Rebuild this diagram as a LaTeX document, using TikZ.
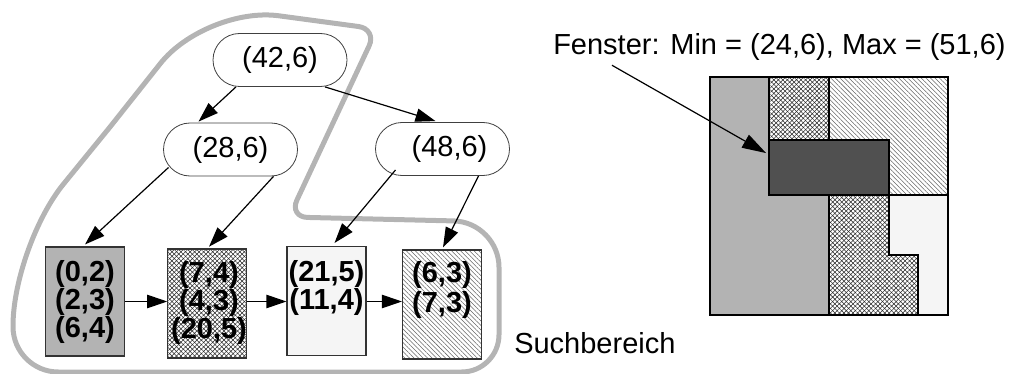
\documentclass[tikz,border=0pt]{standalone}
\usepackage{fontspec}
\setmainfont{Liberation Sans}
\usetikzlibrary{arrows.meta,patterns.meta,calc,shapes.misc}
\definecolor{lgray}{HTML}{B3B3B3}
\definecolor{dgray}{HTML}{505050}
\definecolor{vlgray}{HTML}{F5F5F5}
\definecolor{sgray}{HTML}{B4B4B4}
\begin{document}
\begin{tikzpicture}[x=0.75pt,y=-0.75pt,
  oval/.style={rounded rectangle, draw=black!75, line width=0.6pt, fill=white,
    minimum width=100.5pt, minimum height=39.75pt, inner sep=0pt,
    font=\fontsize{21.75}{26}\selectfont},
  page/.style={rectangle, draw=black!80, line width=0.8pt,
    minimum width=59.25pt, minimum height=81.75pt, inner sep=0pt},
  lbl/.style={anchor=north, inner sep=0pt, align=center,
    font=\bfseries\fontsize{21.75}{21}\selectfont},
  conn/.style={-{Triangle[length=15pt,width=10pt]}, line width=0.9pt},
  search/.style={draw=sgray, line width=3.75pt},
  plain/.style={font=\fontsize{21.75}{26}\selectfont, inner sep=0pt},
  xhatch/.style={preaction={pattern={Lines[angle=45,distance=2.4pt,line width=0.4pt]}, pattern color=black!85},
    pattern={Lines[angle=-45,distance=2.4pt,line width=0.4pt]}, pattern color=black!85},
  dhatch/.style={pattern={Lines[angle=-45,distance=2.4pt,line width=0.4pt]}, pattern color=black!60},
  region/.style={draw=black, line width=1.1pt}
]
\useasboundingbox (0,0) rectangle (1016,374);

% search area outline
\draw[search] (110,127) [rounded corners=55pt] -- (206,6) [rounded corners=14pt] -- (377,29)
  [rounded corners=14pt] -- (289,217) [rounded corners=34pt] -- (499,222)
  [rounded corners=28pt] -- (499,372) [rounded corners=34pt] -- (13,372)
  [rounded corners=60pt] -- (13,246) [sharp corners] -- (110,127);

% inner nodes
\node[oval] (n42) at (280,60) {(42,6)};
\node[oval] (n28) at (230.5,149.5) {(28,6)};
\node[oval] (n48) at (442.5,149) {\kern10.5pt(48,6)};

% leaf pages
\node[page, fill=lgray] (b1) at (85,301.5) {};
\node[page, xhatch] (b2) at (207,303.5) {};
\node[page, fill=vlgray] (b3) at (326.5,301) {};
\node[page, dhatch] (b4) at (442,304.5) {};

\node[lbl] (t1) at ($(b1.north)+(0,14)$) {(0,2)\\(2,3)\\(6,4)};
\node[lbl] (t2) at ($(b2.north)+(2,12)$) {(7,4)\\(4,3)\\(20,5)};
\node[lbl] (t3) at ($(b3.north)+(0,14.5)$) {(21,5)\\(11,4)};
\node[lbl, font=\bfseries\fontsize{21.75}{22.5}\selectfont] (t4) at ($(b4.north)+(0,12)$) {(6,3)\\(7,3)};

% connectors
\draw[conn] ($(n42.south)+(-44,0)$) -- ($(n28.north)+(-32,-1)$);
\draw[conn] ($(n42.south)+(45,0)$) -- ($(n48.north)+(-7,-1)$);
\draw[conn] ($(n28.center)+(-62,18)$) -- ($(b1.north)+(0,-2)$);
\draw[conn] ($(n28.south)+(43,0)$) -- ($(b2.north)+(2,-2)$);
\draw[conn] ($(n48.center)+(-47,21)$) -- ($(b3.north)+(8,-3)$);
\draw[conn] ($(n48.south)+(36,0)$) -- ($(b4.north)+(1,-2)$);

\draw[conn] (b1.east) -- (b1.east -| b2.west);
\draw[conn] (b2.east |- b1.east) -- (b1.east -| b3.west);
\draw[conn] (b3.east |- b1.east) -- (b1.east -| b4.west);

\node[plain, anchor=base west] (sb) at (514,353) {Suchbereich};

% right diagram
\path[fill=lgray] (710,77) -- (769,77) -- (769,195) -- (829,195) -- (829,315) -- (710,315) -- cycle;
\path[xhatch] (769,77) rectangle (829,140);
\path[dhatch] (829,77) rectangle (948,195);
\path[xhatch] (829,195) -- (889,195) -- (889,255) -- (918,255) -- (918,315) -- (829,315) -- cycle;
\path[fill=vlgray] (889,195) -- (948,195) -- (948,315) -- (918,315) -- (918,255) -- (889,255) -- cycle;
\draw[region] (769,77) -- (769,140);
\draw[region] (829,77) -- (829,140);
\draw[region] (769,140) -- (829,140);
\draw[region] (829,195) -- (829,315);
\draw[region] (889,195) -- (948,195);
\draw[region] (889,195) -- (889,255) -- (918,255) -- (918,315);
\draw[region] (710,77) rectangle (948,315);
\node[draw=black, line width=1.4pt, fill=dgray, minimum width=90pt, minimum height=41.25pt, inner sep=0pt] (win) at (829,167.5) {};

\node[plain, anchor=base west] (fen) at (553,55) {Fenster: Min = (24,6), Max = (51,6)};
\draw[-{Triangle[length=18pt,width=11pt]}, line width=0.9pt] ($(fen.south west)+(59,4)$) -- ($(win.north west)+(-2,14)$);
\end{tikzpicture}
\end{document}
